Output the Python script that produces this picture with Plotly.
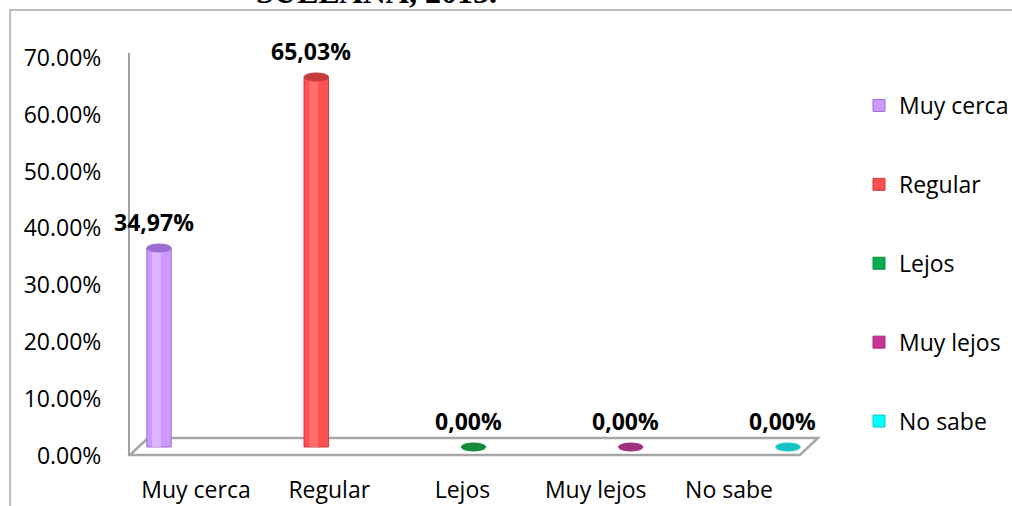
import plotly.graph_objects as go

# --- data ---
categories = ["Muy cerca", "Regular", "Lejos", "Muy lejos", "No sabe"]
values = [0.3497, 0.6503, 0.0, 0.0, 0.0]
colors = ["#cc99ff", "#ff5050", "#00b050", "#cc3399", "#00ffff"]
edge_colors = ["#9b6fcf", "#c63b3b", "#138a3c", "#a0307e", "#17c4c4"]
light_colors = ["#dcb6ff", "#ff6e6e", "#33c070", "#d95cad", "#66ffff"]
y_ticks = [0, 0.1, 0.2, 0.3, 0.4, 0.5, 0.6, 0.7]
title_text = "SULLANA, 2015."

# layout constants (page pixels)
W, H = 1012, 506
L, R, T, B = 130, 820, 53, 456
PX_PER_UNIT_Y = 569.0        # pixels per 1.0 (100%)
BASE = 9 / PX_PER_UNIT_Y     # 3d depth offset of the bars
BAR_W = 0.155


def px_x(p):
    return (p - L) / (R - L)


def px_y(p):
    return (B - p) / (B - T)


fig = go.Figure()

# bars (one trace per category so they show in the legend)
for cat, v, c, ec in zip(categories, values, colors, edge_colors):
    fig.add_trace(go.Bar(
        x=[cat], y=[v], base=BASE, width=BAR_W, name=cat,
        marker=dict(color=c, line=dict(color=ec, width=1)),
        legendgroup=cat, hoverinfo="skip"
    ))
# light stripe for the cylinder look
for cat, v, lc in zip(categories, values, light_colors):
    fig.add_trace(go.Bar(
        x=[cat], y=[v], base=BASE, width=BAR_W * 0.35, offset=-BAR_W * 0.28,
        marker=dict(color=lc, line=dict(width=0)),
        showlegend=False, hoverinfo="skip"
    ))

# invisible helper trace so the label axis is drawn
fig.add_trace(go.Scatter(
    x=categories, y=values, xaxis="x2", mode="markers",
    marker=dict(opacity=0), showlegend=False, hoverinfo="skip"
))

shapes = []
# floor of the 3d chart
shapes.append(dict(
    type="path", xref="paper", yref="paper", layer="below",
    path="M {},{} L {},{} L {},{} L {},{} Z".format(
        px_x(130), px_y(455), px_x(800), px_y(455),
        px_x(818), px_y(438), px_x(148), px_y(438)),
    line=dict(color="#a6a6a6", width=2.5), fillcolor="white"
))
# outer border (left + top)
shapes.append(dict(
    type="path", xref="paper", yref="paper",
    path="M {},{} L {},{} L {},{}".format(
        px_x(10), px_y(510), px_x(10), px_y(10), px_x(1015), px_y(10)),
    line=dict(color="#a6a6a6", width=1.5)
))
# cylinder caps
cap_h = 4 / PX_PER_UNIT_Y
for i, (v, c, ec) in enumerate(zip(values, colors, edge_colors)):
    top = v + BASE
    shapes.append(dict(
        type="circle", xref="x", yref="y",
        x0=i - BAR_W / 2, x1=i + BAR_W / 2, y0=top - cap_h, y1=top + cap_h,
        fillcolor=ec, line=dict(color=ec, width=1)
    ))

annotations = []
for cat, v in zip(categories, values):
    annotations.append(dict(
        x=cat, y=v + BASE, xref="x", yref="y", yanchor="bottom",
        text="<b>" + f"{v * 100:.2f}".replace(".", ",") + "%</b>",
        showarrow=False, yshift=8, xshift=-5,
        font=dict(family="Open Sans", size=23, color="black")
    ))
annotations.append(dict(
    x=px_x(376), y=px_y(12), xref="paper", yref="paper",
    xanchor="center", yanchor="bottom", showarrow=False,
    text="<b>" + title_text + "</b>",
    font=dict(family="Liberation Serif", size=32, color="black")
))

fig.update_layout(
    width=W, height=H,
    margin=dict(l=L, r=W - R, t=T, b=H - B, autoexpand=False),
    plot_bgcolor="white", paper_bgcolor="white",
    barmode="overlay",
    font=dict(family="Open Sans", size=23, color="black"),
    showlegend=True,
    legend=dict(
        x=px_x(859), y=px_y(84), xanchor="left", yanchor="top",
        tracegroupgap=46, font=dict(size=23), bgcolor="rgba(0,0,0,0)"
    ),
    xaxis=dict(
        range=[-0.1844, 4.2036], showticklabels=False, showline=False,
        showgrid=False, zeroline=False, ticks="", automargin=False
    ),
    xaxis2=dict(
        overlaying="x", anchor="y", side="bottom",
        range=[-0.495, 4.683], showline=False, showgrid=False,
        zeroline=False, ticks="outside", ticklen=13, automargin=False,
        tickcolor="rgba(0,0,0,0)", tickfont=dict(size=23)
    ),
    yaxis=dict(
        range=[0, (B - T) / PX_PER_UNIT_Y], tickvals=y_ticks,
        tickformat=".2%", showgrid=False, zeroline=False,
        showline=True, linecolor="#a0a0a0", linewidth=2,
        ticks="outside", ticklen=22, tickcolor="rgba(0,0,0,0)",
        tickfont=dict(size=23), automargin=False
    ),
    shapes=shapes,
    annotations=annotations,
)

# drop the default 8px page margin so the figure fills the window
fig.write_html("out.html", config={"displayModeBar": False},
               post_script="document.body.style.margin='0';")
